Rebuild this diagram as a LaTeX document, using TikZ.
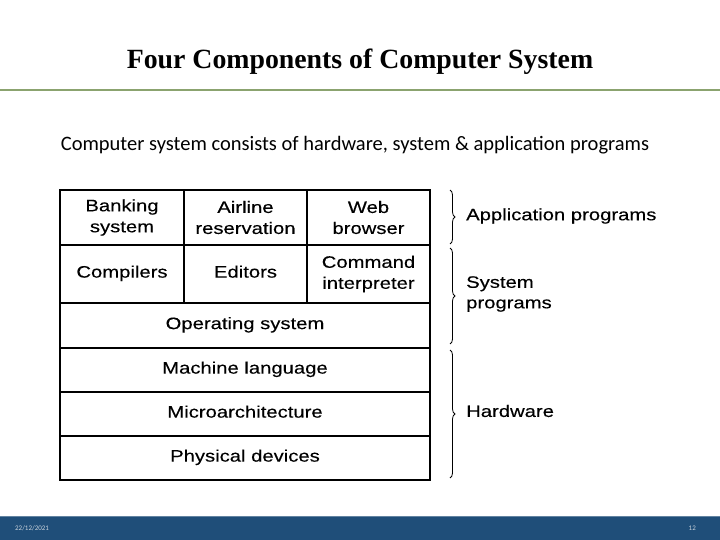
\documentclass[tikz,border=0pt]{standalone}
\usepackage{fontspec}
\setmainfont{Liberation Serif}
\newfontfamily\arialf[FakeStretch=1.22,FakeBold=0.25]{Liberation Sans}
\newfontfamily\calibrif{Carlito}
\usetikzlibrary{decorations.pathreplacing}
\definecolor{footblue}{HTML}{1F4E79}
\definecolor{rulegreen}{HTML}{8BA36F}
\definecolor{foottext}{HTML}{C8D2DC}
\tikzset{
  cell/.style={draw=black, line width=1.6pt, inner sep=0pt, align=center,
    font=\arialf\fontsize{16.6}{21}\selectfont},
  onecell/.style={cell, text height=0.72em, text depth=0pt},
  bracefig/.style={decorate, decoration={brace, amplitude=5pt}, line width=0.8pt},
  sidelabel/.style={anchor=west, align=left, inner sep=0pt,
    font=\arialf\fontsize{16.6}{20.5}\selectfont},
}
\begin{document}
\begin{tikzpicture}[x=1pt, y=-1pt]
\useasboundingbox (0,0) rectangle (720,540);
% title and rule
\node[font=\bfseries\fontsize{27.8}{30}\selectfont, inner sep=0pt] (title) at (360,62) {Four Components of Computer System};
\draw[rulegreen, line width=2pt] (0,90) -- (720,90);
\node[font=\calibrif\fontsize{20.5}{22}\selectfont, inner sep=0pt] (sub) at (355,145) {Computer system consists of hardware, system \& application programs};
% row 1
\node[cell, minimum width=124pt, minimum height=55pt] (bank) at (122,217.5) {Banking\\system};
\node[cell, minimum width=123pt, minimum height=55pt] (air) at (245.5,217.5) {Airline\\reservation};
\node[cell, minimum width=123pt, minimum height=55pt] (web) at (368.5,217.5) {Web\\browser};
% row 2
\node[onecell, minimum width=124pt, minimum height=58pt] (comp) at (122,274) {Compilers};
\node[onecell, minimum width=123pt, minimum height=58pt] (edit) at (245.5,274) {Editors};
\node[cell, minimum width=123pt, minimum height=58pt] (cmd) at (368.5,274) {Command\\interpreter};
% full rows
\node[onecell, minimum width=370pt, minimum height=45pt] (os) at (245,325.5) {Operating system};
\node[onecell, minimum width=370pt, minimum height=44pt] (ml) at (245,370) {Machine language};
\node[onecell, minimum width=370pt, minimum height=44pt] (ma) at (245,414) {Microarchitecture};
\node[onecell, minimum width=370pt, minimum height=44pt] (pd) at (245,458) {Physical devices};
% braces
\coordinate (a1) at (450,190); \coordinate (a2) at (450,244);
\coordinate (s1) at (450,248); \coordinate (s2) at (450,344);
\coordinate (h1) at (450,350); \coordinate (h2) at (450,478);
\draw[bracefig] (a1) -- (a2);
\draw[bracefig] (s1) -- (s2);
\draw[bracefig] (h1) -- (h2);
\node[sidelabel] (app) at (466,216) {Application programs};
\node[sidelabel] (sys) at (466,294) {System\\programs};
\node[sidelabel] (hw) at (466,411) {Hardware};
% footer
\fill[footblue] (0,516) rectangle (720,540);
\draw[footblue!70!white, line width=0.6pt] (0,516) -- (720,516);
\node[font=\calibrif\fontsize{7}{8}\selectfont, text=foottext, anchor=west, inner sep=0pt] (date) at (15,528) {22/12/2021};
\node[font=\calibrif\fontsize{7}{8}\selectfont, text=foottext, anchor=east, inner sep=0pt] (page) at (696,528) {12};
\end{tikzpicture}
\end{document}
